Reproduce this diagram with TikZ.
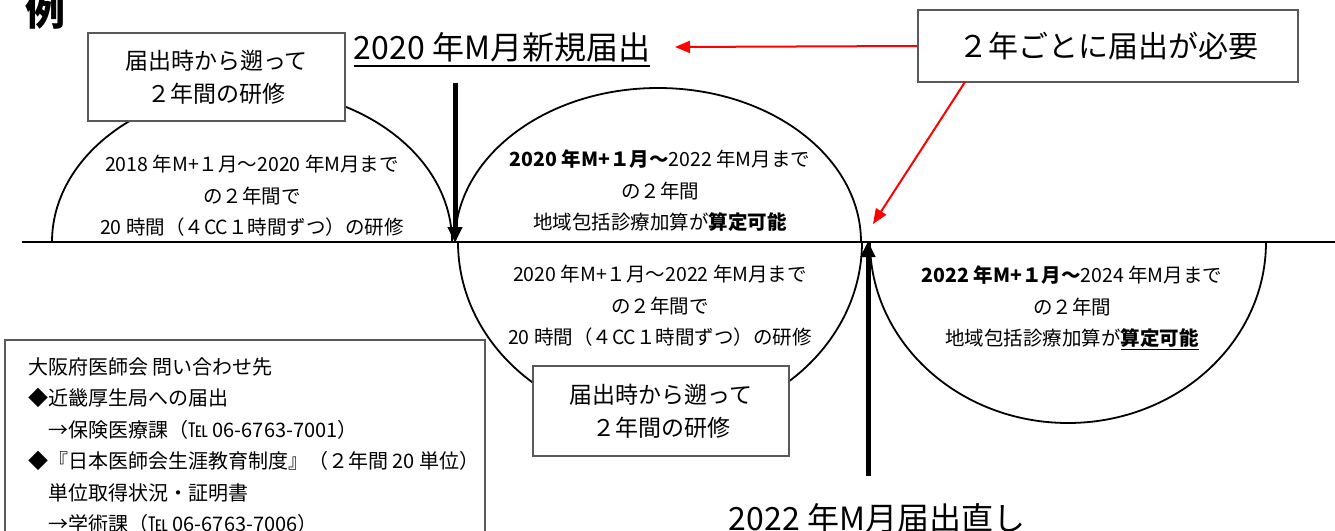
\documentclass[tikz,border=0pt]{standalone}
\usepackage{fontspec}
\setmainfont{Noto Sans CJK JP}
\usetikzlibrary{arrows.meta}
\begin{document}
\begin{tikzpicture}[x=1pt,y=-1pt,
  every node/.style={inner sep=0pt},
  arcline/.style={line width=1.8pt},
  thickarrow/.style={line width=5pt,-{Triangle[length=16pt,width=14pt]}},
  redarrow/.style={draw=red,line width=2pt,-{Triangle[length=15pt,width=12pt]}},
  boxed/.style={draw=black!65,line width=1.2pt,fill=white},
  etext/.style={align=center,font=\fontsize{19.5}{31.5}\selectfont},
  title/.style={font=\fontsize{32}{34}\selectfont}]
\useasboundingbox (0,0) rectangle (1335,530);
% half ellipses
\draw[arcline] (52,242) arc[start angle=180,end angle=0,x radius=200pt,y radius=153pt];
\draw[arcline] (455,242) arc[start angle=180,end angle=0,x radius=203pt,y radius=154pt];
\draw[arcline] (458,242) arc[start angle=180,end angle=360,x radius=202pt,y radius=181pt];
\draw[arcline] (870,242) arc[start angle=180,end angle=360,x radius=198pt,y radius=181pt];
% time line
\coordinate (lineL) at (22,242);
\coordinate (lineR) at (1335,242);
\draw[line width=2.8pt] (lineL) -- (lineR);
% thick arrows
\coordinate (d1) at (455,83);
\coordinate (d2) at (455,243);
\coordinate (u1) at (868,476);
\coordinate (u2) at (868,241);
\draw[thickarrow] (d1) -- (d2);
\draw[thickarrow] (u1) -- (u2);
% boxes
\node[boxed,minimum width=257pt,minimum height=88pt,align=center,font=\fontsize{23}{33}\selectfont] (box1) at (216.5,77) {届出時から遡って\\２年間の研修};
\node[boxed,minimum width=256pt,minimum height=90pt,align=center,font=\fontsize{23}{33}\selectfont] (box2) at (661,411) {届出時から遡って\\２年間の研修};
\node[boxed,minimum width=380pt,minimum height=72pt,font=\fontsize{30}{32}\selectfont] (box3) at (1108,46) {２年ごとに届出が必要};
% titles
\node[title] (t1) at (502,47) {2020 年M月新規届出};
\draw[line width=1.3pt] ([yshift=-4pt]t1.south west) -- ([yshift=-4pt]t1.south east);
\node[title] (t2) at (877,518) {2022 年M月届出直し};
\node[font=\fontsize{40}{40}\bfseries\selectfont] (rei) at (45,10) {例};
% red arrows
\coordinate (r1) at (675,47);
\coordinate (r2) at (873,224);
\draw[redarrow] (box3.west) -- (r1);
\draw[redarrow] (965,82) -- (r2);
% ellipse texts
\node[etext] (e1) at (252,196) {2018 年M+１月～2020 年M月まで\\の２年間で\\20 時間（４CC１時間ずつ）の研修};
\node[etext] (e2) at (660,191) {{\bfseries 2020 年M+１月～}2022 年M月まで\\の２年間\\地域包括診療加算が{\bfseries 算定可能}};
\node[etext] (e3) at (660,306) {2020 年M+１月～2022 年M月まで\\の２年間で\\20 時間（４CC１時間ずつ）の研修};
\node[etext] (e4) at (1072,308) {{\bfseries 2022 年M+１月～}2024 年M月まで\\の２年間\\地域包括診療加算が\underline{\bfseries 算定可能}};
% contact box
\draw[boxed] (5,340) rectangle (485,560);
\node[anchor=north west,align=left,font=\fontsize{20}{31.5}\selectfont] (info) at (28,357) {大阪府医師会 問い合わせ先\\◆近畿厚生局への届出\\\hspace*{1em}→保険医療課（℡ 06-6763-7001）\\◆『日本医師会生涯教育制度』（２年間 20 単位）\\\hspace*{1em}単位取得状況・証明書\\\hspace*{1em}→学術課（℡ 06-6763-7006）};
\end{tikzpicture}
\end{document}
